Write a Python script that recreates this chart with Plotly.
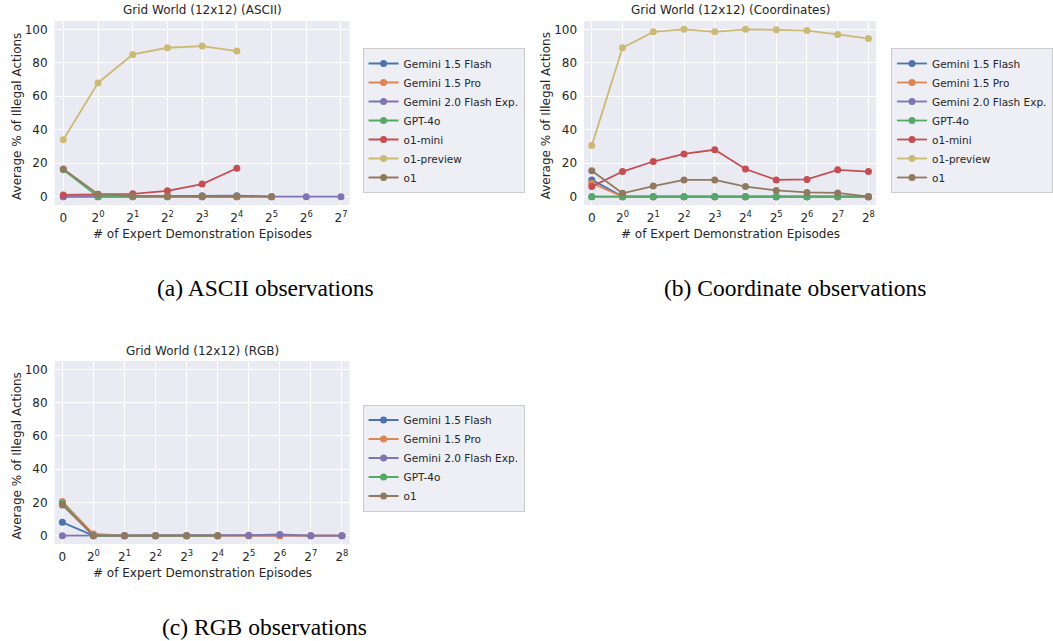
import plotly.graph_objects as go

W, H = 1053, 641


def px(x):
    return x / W


def py(y):
    return 1 - y / H


models = ["Gemini 1.5 Flash", "Gemini 1.5 Pro", "Gemini 2.0 Flash Exp.", "GPT-4o", "o1-mini", "o1-preview", "o1"]
colors = {
    "Gemini 1.5 Flash": "#4c72b0",
    "Gemini 1.5 Pro": "#dd8452",
    "Gemini 2.0 Flash Exp.": "#8172b3",
    "GPT-4o": "#55a868",
    "o1-mini": "#c44e52",
    "o1-preview": "#ccb974",
    "o1": "#937860",
}

ticks_ascii = ["0", "2<sup>0</sup>", "2<sup>1</sup>", "2<sup>2</sup>", "2<sup>3</sup>", "2<sup>4</sup>",
               "2<sup>5</sup>", "2<sup>6</sup>", "2<sup>7</sup>"]
ticks_full = ticks_ascii + ["2<sup>8</sup>"]
y_ticks = [0, 20, 40, 60, 80, 100]

# (a) ASCII observations
ascii_data = {
    "Gemini 1.5 Flash": [0, 0.2, 0.3, 0.4, 0.5, 0.6, 0],
    "Gemini 1.5 Pro": [0.3, 0, 0, 0, 0, 0],
    "Gemini 2.0 Flash Exp.": [0, 0, 0, 0, 0, 0, 0, 0, 0],
    "GPT-4o": [16, 0, 0, 0, 0, 0],
    "o1-mini": [1, 1.5, 1.7, 3.5, 7.5, 17],
    "o1-preview": [34, 68, 85, 89, 90, 87],
    "o1": [16.5, 1.5, 0.5, 0.2, 0.2, 0.2, 0],
}

# (b) Coordinate observations
coord_data = {
    "Gemini 1.5 Flash": [10, 0, 0, 0, 0, 0, 0, 0, 0, 0],
    "Gemini 1.5 Pro": [8, 0, 0, 0, 0, 0, 0, 0, 0, 0],
    "Gemini 2.0 Flash Exp.": [0, 0, 0, 0, 0, 0, 0, 0, 0, 0],
    "GPT-4o": [0, 0, 0, 0, 0, 0, 0, 0, 0, 0],
    "o1-mini": [6, 15, 21, 25.5, 28, 16.5, 10, 10.3, 16, 15],
    "o1-preview": [30.5, 89, 98.5, 100, 98.5, 100, 99.7, 99.3, 97, 94.5],
    "o1": [15.5, 2, 6.3, 10, 10, 6, 3.7, 2.5, 2.2, 0],
}

# (c) RGB observations
rgb_data = {
    "Gemini 1.5 Flash": [8, 0, 0, 0, 0, 0, 0, 0, 0, 0],
    "Gemini 1.5 Pro": [20.5, 1, 0, 0, 0, 0, 0, 0, 0, 0],
    "Gemini 2.0 Flash Exp.": [0, 0, 0, 0, 0, 0, 0.3, 0.7, 0, 0],
    "GPT-4o": [19.5, 0, 0, 0, 0, 0],
    "o1": [18.5, 0, 0, 0, 0, 0],
}

FONT = "DejaVu Sans"
TXT = "#262626"
FS = 12

fig = go.Figure()

panels = [
    ("", "legend", ascii_data, ticks_ascii, 8, "Grid World (12x12) (ASCII)", "(a) ASCII observations",
     (55, 352, 21, 205), (267, 288)),
    ("2", "legend2", coord_data, ticks_full, 9, "Grid World (12x12) (Coordinates)", "(b) Coordinate observations",
     (588, 882, 21, 205), (800, 288)),
    ("3", "legend3", rgb_data, ticks_full, 9, "Grid World (12x12) (RGB)", "(c) RGB observations",
     (55, 352, 361, 544), (266, 627)),
]

annotations = []
layout_axes = {}
for suf, leg, data, ticks, nmax, title, caption, (x0, x1, y0, y1), (capx, capy) in panels:
    for m, vals in data.items():
        fig.add_trace(go.Scatter(
            x=list(range(len(vals))), y=vals, name=m, mode="lines+markers",
            line=dict(color=colors[m], width=1.8),
            marker=dict(color=colors[m], size=7),
            xaxis="x" + suf, yaxis="y" + suf, legend=leg,
        ))
    layout_axes["xaxis" + suf] = dict(
        domain=[px(x0), px(x1)], anchor="y" + suf, range=[-0.25, nmax + 0.25],
        tickvals=list(range(len(ticks))), ticktext=ticks,
        showgrid=True, gridcolor="white", gridwidth=1, zeroline=False, showline=False,
        ticks="", ticklabelstandoff=4, tickfont=dict(family=FONT, size=FS, color=TXT),
    )
    layout_axes["yaxis" + suf] = dict(
        domain=[py(y1), py(y0)], anchor="x" + suf, range=[-5, 105],
        tickvals=y_ticks,
        showgrid=True, gridcolor="white", gridwidth=1, zeroline=False, showline=False,
        ticks="", ticklabelstandoff=6, tickfont=dict(family=FONT, size=FS, color=TXT),
    )
    cx = (x0 + x1) / 2
    annotations.append(dict(text=title, x=px(cx), y=py(y0 - 10.5), xref="paper", yref="paper",
                            showarrow=False, xanchor="center", yanchor="middle",
                            font=dict(family=FONT, size=FS, color=TXT)))
    annotations.append(dict(text="# of Expert Demonstration Episodes", x=px(cx), y=py(y1 + 29),
                            xref="paper", yref="paper", showarrow=False, xanchor="center", yanchor="middle",
                            font=dict(family=FONT, size=FS, color=TXT)))
    annotations.append(dict(text="Average % of Illegal Actions", x=px(x0 - 38), y=py((y0 + y1) / 2 + 3),
                            xref="paper", yref="paper", showarrow=False, textangle=-90,
                            xanchor="center", yanchor="middle",
                            font=dict(family=FONT, size=FS, color=TXT)))
    annotations.append(dict(text=caption, x=px(capx), y=py(capy), xref="paper", yref="paper",
                            showarrow=False, xanchor="center", yanchor="middle",
                            font=dict(family="Liberation Serif", size=23.5, color="black")))

leg_style = dict(xanchor="left", yanchor="middle", bgcolor="#eeeef5", bordercolor="#cccccc", borderwidth=1,
                 font=dict(family=FONT, size=10.5, color=TXT), tracegroupgap=0, itemwidth=30)

fig.update_layout(
    width=W, height=H, margin=dict(l=0, r=0, t=0, b=0),
    paper_bgcolor="white", plot_bgcolor="#eaeaf2",
    annotations=annotations,
    legend=dict(x=px(365), y=py(120.5), **leg_style),
    legend2=dict(x=px(897), y=py(120.5), **leg_style),
    legend3=dict(x=px(365), y=py(458), **leg_style),
    **layout_axes,
)

# remove the default 8px page margin so the figure fills the 1053x641 window exactly
fig.write_html("out.html", config={"displayModeBar": False},
               post_script="document.body.style.margin='0';document.body.style.overflow='hidden';")
